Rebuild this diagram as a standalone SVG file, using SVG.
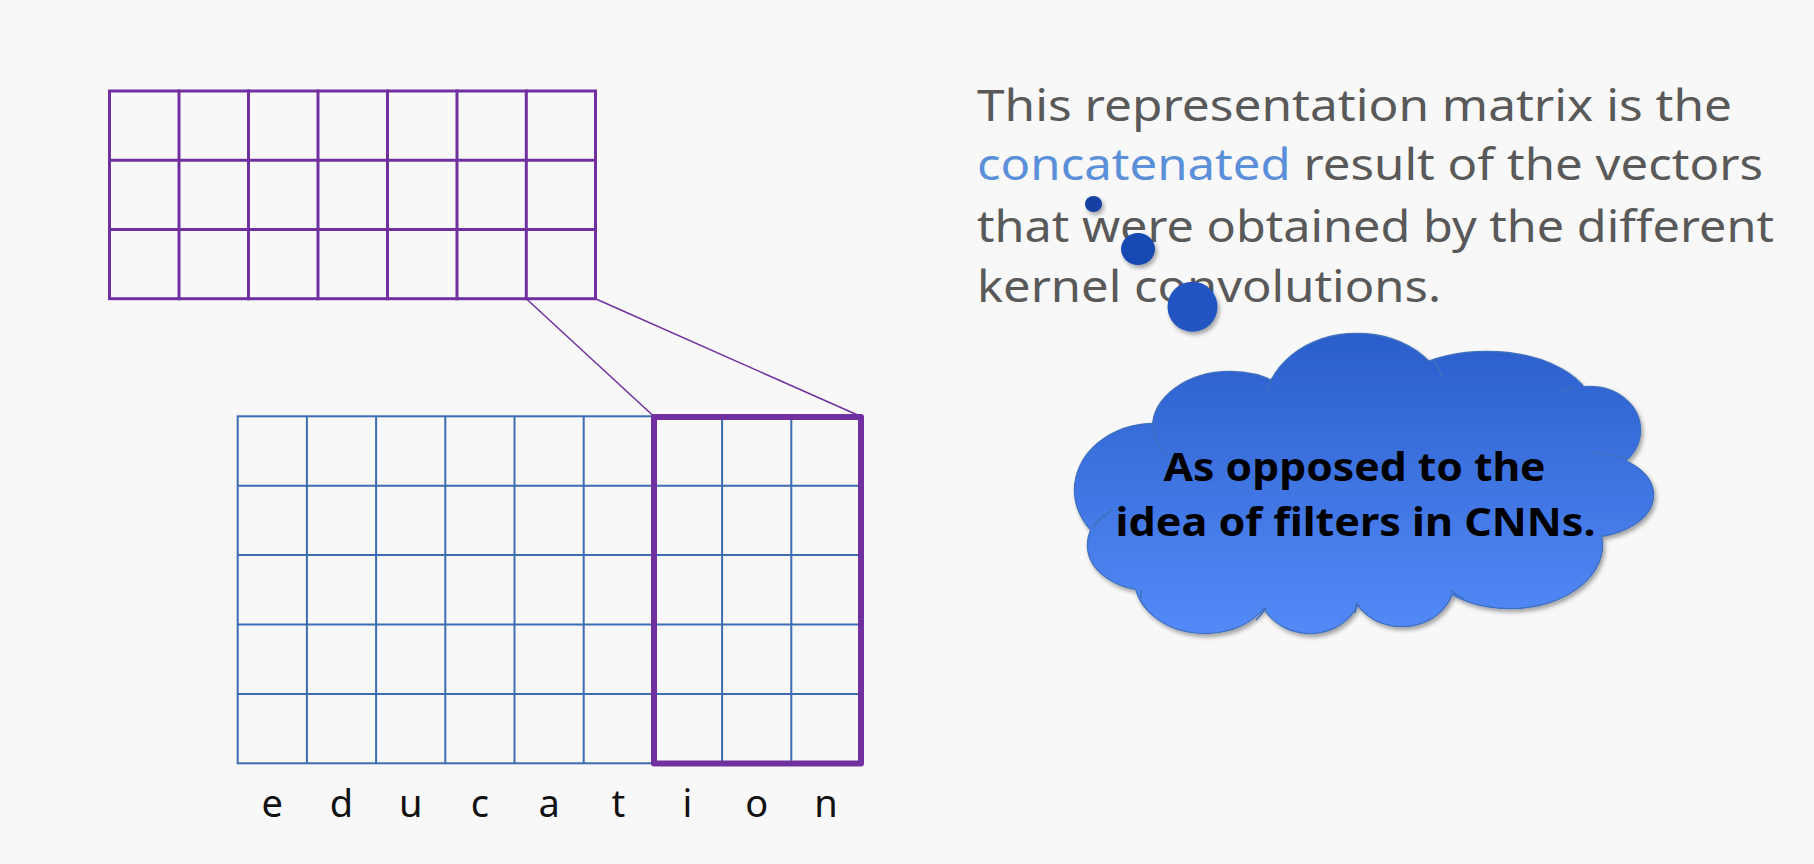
<svg xmlns="http://www.w3.org/2000/svg" width="1814" height="864" viewBox="0 0 1814 864">
<style>
.pgrid{fill:none;stroke:#7030A0;stroke-width:3;stroke-linecap:square}
.bgrid{fill:none;stroke:#3C6CB1;stroke-width:2}
.note{font-family:"Noto Sans","Liberation Sans",sans-serif;font-size:44px;fill:#595959}
.hl{fill:#5A8FD9}
.letter{font-family:"Noto Sans","Liberation Sans",sans-serif;font-size:38px;fill:#111111;text-anchor:middle}
.cloudtxt{font-family:"Noto Sans","Liberation Sans",sans-serif;font-size:40px;font-weight:bold;fill:#000000;text-anchor:middle}
.stub{fill:none;stroke:#3F6FC0;stroke-width:1.5}
.conn{stroke:#7030A0;stroke-width:1.5;fill:none}
</style>
<defs>
<filter id="shadow" x="-10%" y="-10%" width="130%" height="130%">
<feDropShadow dx="2" dy="3" stdDeviation="2" flood-color="#000" flood-opacity="0.35"/>
</filter>
<linearGradient id="cloudGrad" gradientUnits="userSpaceOnUse" x1="0" y1="334" x2="0" y2="634">
<stop offset="0" stop-color="#2A5ECB"/>
<stop offset="1" stop-color="#538AF8"/>
</linearGradient>
<marker id="arrowHead" markerUnits="userSpaceOnUse" markerWidth="15" markerHeight="14" refX="2" refY="7" orient="auto">
<path d="M0,0 L14.5,7 L0,14 Z" fill="#4A7EC1"/>
</marker>
<g id="cloudShapes">
<ellipse cx="1230" cy="428" rx="77" ry="56"/>
<ellipse cx="1357" cy="408" rx="92" ry="74"/>
<ellipse cx="1487" cy="412" rx="106" ry="60"/>
<ellipse cx="1590" cy="430" rx="50" ry="43"/>
<ellipse cx="1585" cy="495" rx="68" ry="42"/>
<ellipse cx="1510" cy="545" rx="92" ry="63"/>
<ellipse cx="1402" cy="580" rx="52" ry="46"/>
<ellipse cx="1310" cy="585" rx="52" ry="48"/>
<ellipse cx="1205" cy="578" rx="70" ry="55"/>
<ellipse cx="1150" cy="545" rx="62" ry="45"/>
<ellipse cx="1155" cy="490" rx="80" ry="66"/>
</g>
</defs>
<rect width="1814" height="864" fill="#F8F8F8"/>

<g id="top-matrix">
<rect class="pgrid" x="109.5" y="91" width="486" height="207.7"/>
<path class="pgrid" d="M179,91V298.7M248.5,91V298.7M318,91V298.7M387.5,91V298.7M457,91V298.7M526.3,91V298.7M109.5,160.2H595.5M109.5,229.5H595.5"/>
</g>

<g id="input-matrix">
<rect class="bgrid" x="237.7" y="416.3" width="623" height="347"/>
<path class="bgrid" d="M306.9,416.3V763.3M376.1,416.3V763.3M445.3,416.3V763.3M514.5,416.3V763.3M583.7,416.3V763.3M652.9,416.3V763.3M722.1,416.3V763.3M791.3,416.3V763.3M237.7,485.7H860.7M237.7,555.1H860.7M237.7,624.5H860.7M237.7,693.9H860.7"/>
</g>

<g id="kernel-window">
<rect x="654" y="417" width="207" height="346.5" fill="none" stroke="#7030A0" stroke-width="6" stroke-linejoin="round"/>
</g>

<g id="letters">
<text class="letter" x="272.3" y="816.5">e</text>
<text class="letter" x="341.5" y="816.5">d</text>
<text class="letter" x="410.7" y="816.5">u</text>
<text class="letter" x="479.9" y="816.5">c</text>
<text class="letter" x="549.1" y="816.5">a</text>
<text class="letter" x="618.3" y="816.5">t</text>
<text class="letter" x="687.5" y="816.5">i</text>
<text class="letter" x="756.7" y="816.5">o</text>
<text class="letter" x="825.9" y="816.5">n</text>
</g>

<g id="connectors">
<line class="conn" x1="526.3" y1="298.7" x2="654" y2="416.5"/>
<line class="conn" x1="595.5" y1="298.7" x2="861" y2="416.5"/>
<line x1="933.5" y1="194.3" x2="664" y2="194.3" stroke="#4A7EC1" stroke-width="4.5" marker-end="url(#arrowHead)" filter="url(#shadow)"/>
</g>

<g id="note">
<text class="note" x="977" y="120.5" textLength="755" lengthAdjust="spacingAndGlyphs">This representation matrix is the</text>
<text class="note" x="977" y="180" textLength="786" lengthAdjust="spacingAndGlyphs"><tspan class="hl">concatenated</tspan> result of the vectors</text>
<text class="note" x="977" y="241.5" textLength="797" lengthAdjust="spacingAndGlyphs">that were obtained by the different</text>
<text class="note" x="977" y="301.5" textLength="464" lengthAdjust="spacingAndGlyphs">kernel convolutions.</text>
</g>

<g id="thought-bubbles" filter="url(#shadow)">
<ellipse cx="1093.5" cy="204" rx="8.5" ry="8" fill="#1241A3"/>
<ellipse cx="1138" cy="249" rx="17" ry="16" fill="#1748B1"/>
<ellipse cx="1192.5" cy="306.7" rx="25" ry="25" fill="#2255C1"/>
</g>

<g id="cloud">
<g filter="url(#shadow)">
<use href="#cloudShapes" fill="none" stroke="#3F6FC0" stroke-width="2.5"/>
<use href="#cloudShapes" fill="url(#cloudGrad)" stroke="none"/>
<ellipse cx="1365" cy="490" rx="230" ry="110" fill="url(#cloudGrad)"/>
</g>
<path class="stub" d="M1153,427 Q1155,445 1168,456"/>
<path class="stub" d="M1272,378 Q1268,386 1268,394"/>
<path class="stub" d="M1433,360 Q1439,367 1442,377"/>
<path class="stub" d="M1573,387 Q1566,389 1560,393"/>
<path class="stub" d="M1627,459 Q1610,453 1590,453"/>
<path class="stub" d="M1450,590 Q1456,595 1464,599"/>
<path class="stub" d="M1357,602 Q1356,608 1355,613"/>
<path class="stub" d="M1266,608 Q1261,615 1256,620"/>
<path class="stub" d="M1141,590 L1141,598"/>
<path class="stub" d="M1093,528 Q1101,516 1113,510"/>
<text class="cloudtxt" x="1354.6" y="481" textLength="382" lengthAdjust="spacingAndGlyphs">As opposed to the</text>
<text class="cloudtxt" x="1355.6" y="535.5" textLength="480" lengthAdjust="spacingAndGlyphs">idea of filters in CNNs.</text>
</g>
</svg>
